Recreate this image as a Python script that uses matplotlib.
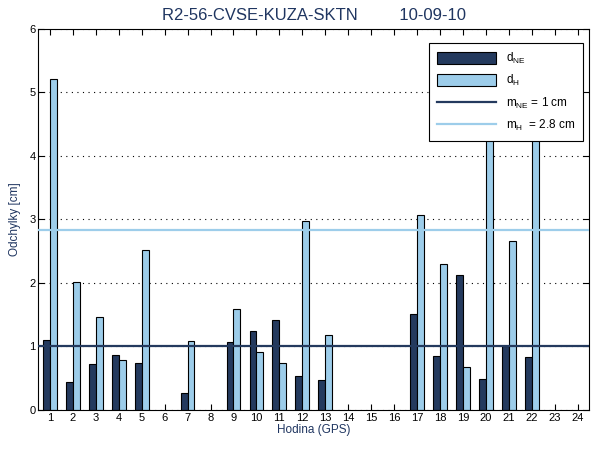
import numpy as np
import matplotlib
matplotlib.use("Agg")
import matplotlib.pyplot as plt

plt.rcParams['font.family'] = ['Liberation Sans', 'DejaVu Sans']
plt.rcParams['mathtext.fontset'] = 'custom'
plt.rcParams['mathtext.rm'] = 'Liberation Sans'

title = "R2-56-CVSE-KUZA-SKTN         10-09-10"
hours = np.arange(1, 25)
# nan = no observation in that hour
d_ne = [1.10, 0.44, 0.72, 0.86, 0.74, np.nan, 0.26, np.nan, 1.07, 1.24, 1.41, 0.53,
        0.47, np.nan, np.nan, np.nan, 1.51, 0.85, 2.12, 0.48, 1.00, 0.83, np.nan, np.nan]
d_h = [5.21, 2.01, 1.46, 0.78, 2.52, np.nan, 1.08, np.nan, 1.59, 0.92, 0.74, 2.97,
       1.18, np.nan, np.nan, np.nan, 3.07, 2.29, 0.67, 5.00, 2.66, 5.00, np.nan, np.nan]
m_ne = 1.0
m_h = 2.83

dark = '#243a5e'
light = '#9dcdea'
navy = '#1f3560'

fig = plt.figure(figsize=(6, 4.5), dpi=100)
ax = fig.add_axes([0.064, 0.089, 0.918, 0.847])

w = 0.3
b1 = ax.bar(hours - w / 2, d_ne, w, color=dark, edgecolor='black', linewidth=0.8,
            label=r'd$_{\mathregular{NE}}$', zorder=2)
b2 = ax.bar(hours + w / 2, d_h, w, color=light, edgecolor='black', linewidth=0.8,
            label=r'd$_{\mathregular{H}}$', zorder=2)
l1 = ax.axhline(m_ne, color=dark, linewidth=1.6, label=r'm$_{\mathregular{NE}}$ = 1 cm', zorder=3)
l2 = ax.axhline(m_h, color=light, linewidth=1.6, label=r'm$_{\mathregular{H}}$  = 2.8 cm', zorder=3)

ax.set_xlim(0.5, 24.5)
ax.set_ylim(0, 6)
ax.set_xticks(hours)
ax.set_yticks(range(0, 7))
ax.yaxis.grid(True, linestyle=(0, (1, 4)), color='black', linewidth=0.8, zorder=0)
ax.set_axisbelow(True)
ax.tick_params(direction='in', top=True, right=True, labelsize=8, length=4, pad=2)

ax.set_title(title, color=navy, fontsize=12, pad=6)
ax.set_xlabel('Hodina (GPS)', color=navy, fontsize=8.5, labelpad=1)
ax.set_ylabel('Odchylky [cm]', color=navy, fontsize=8.5, labelpad=6)

leg = ax.legend([b1, b2, l1, l2], [h.get_label() for h in (b1, b2, l1, l2)],
                loc='upper right', bbox_to_anchor=(0.989, 0.963),
                fontsize=8.5, fancybox=False, framealpha=1,
                edgecolor='black', handlelength=5.0, handleheight=1.2,
                borderpad=0.7, labelspacing=0.6, borderaxespad=0)
leg.get_frame().set_linewidth(0.8)
leg.set_zorder(5)

fig.savefig('out.png', dpi=100)
